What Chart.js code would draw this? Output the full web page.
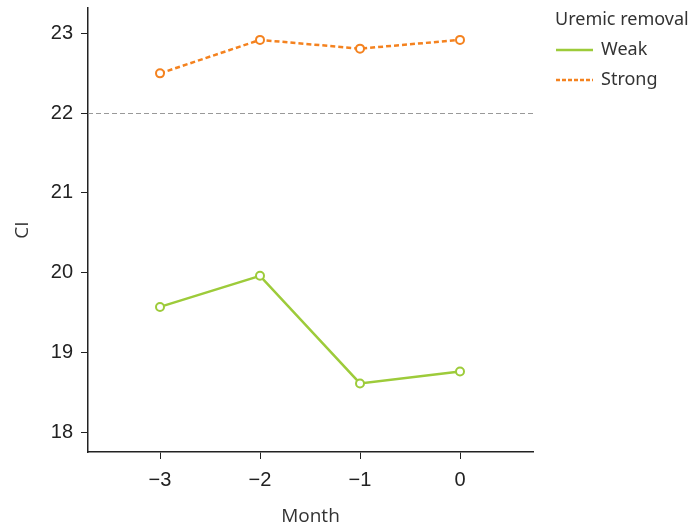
<!DOCTYPE html>
<html><head><meta charset="utf-8">
<script src="https://cdn.jsdelivr.net/npm/chart.js@4/dist/chart.umd.min.js"></script>
<style>html,body{margin:0;padding:0;background:#fff}#w{width:690px;height:525px}</style>
</head><body><div id="w"><canvas id="c" width="690" height="525"></canvas></div>
<script>
const months = [-3, -2, -1, 0];
const monthLabels = ['\u22123', '\u22122', '\u22121', '0'];
const weakValues = [19.57, 19.96, 18.61, 18.76];
const strongValues = [22.50, 22.92, 22.81, 22.92];
const yTicks = [18, 19, 20, 21, 22, 23];
const refValue = 22;
const seriesNames = ['Weak', 'Strong'];
const legendTitle = 'Uremic removal';

const GREEN = '#9dcb3a', ORANGE = '#f4821f';
const tickFont = {family: '"Liberation Sans", Arial, sans-serif', size: 20};
const titleFont = {family: '"Open Sans", "Noto Sans", sans-serif', size: 19};

const refLine = {
  id: 'refLine',
  beforeDatasetsDraw(chart) {
    const {ctx, chartArea, scales} = chart;
    const y = Math.round(scales.y.getPixelForValue(refValue)) + 0.5;
    ctx.save();
    ctx.strokeStyle = '#999';
    ctx.lineWidth = 1;
    ctx.setLineDash([5, 3]);
    ctx.beginPath();
    ctx.moveTo(chartArea.left, y);
    ctx.lineTo(chartArea.right, y);
    ctx.stroke();
    ctx.restore();
  }
};
const legendPlugin = {
  id: 'customLegend',
  afterDraw(chart) {
    const ctx = chart.ctx;
    ctx.save();
    ctx.fillStyle = '#333';
    ctx.font = '18px "Noto Sans", "Open Sans", sans-serif';
    ctx.textBaseline = 'middle';
    ctx.textAlign = 'left';
    ctx.fillText(legendTitle, 555, 20);
    const items = [{c: GREEN, d: [], y: 50}, {c: ORANGE, d: [4, 2], y: 80}];
    items.forEach((it, i) => {
      ctx.strokeStyle = it.c;
      ctx.lineWidth = 2.5;
      ctx.setLineDash(it.d);
      ctx.beginPath();
      ctx.moveTo(556, it.y);
      ctx.lineTo(593, it.y);
      ctx.stroke();
      ctx.setLineDash([]);
      ctx.fillStyle = '#333';
      ctx.fillText(seriesNames[i], 601, it.y);
    });
    ctx.restore();
  }
};

new Chart(document.getElementById('c'), {
  type: 'line',
  data: {
    datasets: [
      {label: seriesNames[0], data: months.map((m, i) => ({x: m, y: weakValues[i]})),
       borderColor: GREEN, backgroundColor: '#fff', borderWidth: 2.5,
       pointRadius: 4, pointBorderWidth: 2, pointBackgroundColor: '#fff', pointBorderColor: GREEN},
      {label: seriesNames[1], data: months.map((m, i) => ({x: m, y: strongValues[i]})),
       borderColor: ORANGE, backgroundColor: '#fff', borderWidth: 2.5, borderDash: [5, 3],
       pointRadius: 4, pointBorderWidth: 2, pointBackgroundColor: '#fff', pointBorderColor: ORANGE}
    ]
  },
  options: {
    responsive: false,
    animation: false,
    devicePixelRatio: 1,
    layout: {padding: {top: 0, right: 157, left: 0, bottom: 0}},
    plugins: {legend: {display: false}, tooltip: {enabled: false}},
    scales: {
      x: {
        type: 'linear', min: -3.72, max: 0.73,
        afterBuildTicks: s => { s.ticks = months.map(v => ({value: v})); },
        afterFit: s => { s.height = 73; },
        ticks: {font: tickFont, color: '#222', padding: 9,
                callback: (v) => monthLabels[months.indexOf(v)]},
        grid: {display: true, drawOnChartArea: false, drawTicks: true, tickLength: 7, color: '#222', tickWidth: 1},
        border: {display: true, color: '#222', width: 1.5},
        title: {display: true, text: 'Month', font: titleFont, color: '#333', padding: {top: 0, bottom: -3}}
      },
      y: {
        min: 17.75, max: 23.32,
        afterBuildTicks: s => { s.ticks = yTicks.map(v => ({value: v})); },
        afterFit: s => { s.width = 88; s.paddingTop = 8; },
        ticks: {font: tickFont, color: '#222', padding: 8},
        grid: {display: true, drawOnChartArea: false, drawTicks: true, tickLength: 7, color: '#222', tickWidth: 1},
        border: {display: true, color: '#222', width: 1.5},
        title: {display: true, text: 'CI', font: titleFont, color: '#333', padding: {top: 11, bottom: 20}}
      }
    }
  },
  plugins: [refLine, legendPlugin]
});
</script></body></html>
